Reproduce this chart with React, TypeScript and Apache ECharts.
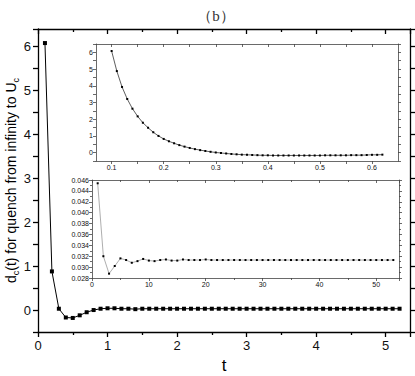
import React, { useEffect, useRef } from "react";
import * as echarts from "echarts";

// Main curve: d_c(t) vs t
const mainT = [0.1, 0.2, 0.3, 0.4, 0.5, 0.6, 0.7, 0.8, 0.9, 1.0, 1.1, 1.2, 1.3, 1.4, 1.5, 1.6, 1.7, 1.8, 1.9, 2.0,
  2.1, 2.2, 2.3, 2.4, 2.5, 2.6, 2.7, 2.8, 2.9, 3.0, 3.1, 3.2, 3.3, 3.4, 3.5, 3.6, 3.7, 3.8, 3.9, 4.0,
  4.1, 4.2, 4.3, 4.4, 4.5, 4.6, 4.7, 4.8, 4.9, 5.0, 5.1, 5.2];
const mainD = [6.08, 0.88, 0.03, -0.17, -0.18, -0.12, -0.05, 0.0, 0.03, 0.04, 0.04, 0.03, 0.03, 0.02, 0.03, 0.03, 0.03, 0.03, 0.03, 0.03,
  0.03, 0.03, 0.03, 0.03, 0.03, 0.03, 0.03, 0.03, 0.03, 0.03, 0.03, 0.03, 0.03, 0.03, 0.03, 0.03, 0.03, 0.03, 0.03, 0.03,
  0.03, 0.03, 0.03, 0.03, 0.03, 0.03, 0.03, 0.03, 0.03, 0.03, 0.03, 0.03];

// Inset 1 (fine time grid)
const inset1X = [0.10, 0.11, 0.12, 0.13, 0.14, 0.15, 0.16, 0.17, 0.18, 0.19, 0.20, 0.21, 0.22, 0.23, 0.24, 0.25, 0.26, 0.27, 0.28, 0.29,
  0.30, 0.31, 0.32, 0.33, 0.34, 0.35, 0.36, 0.37, 0.38, 0.39, 0.40, 0.41, 0.42, 0.43, 0.44, 0.45, 0.46, 0.47, 0.48, 0.49,
  0.50, 0.51, 0.52, 0.53, 0.54, 0.55, 0.56, 0.57, 0.58, 0.59, 0.60, 0.61, 0.62];
const inset1D = [6.08, 4.88, 3.93, 3.21, 2.63, 2.17, 1.79, 1.49, 1.22, 1.00, 0.82, 0.68, 0.56, 0.45, 0.36, 0.28, 0.21, 0.15, 0.10, 0.05,
  0.01, -0.02, -0.05, -0.08, -0.10, -0.12, -0.13, -0.14, -0.15, -0.16, -0.16, -0.17, -0.17, -0.17, -0.17, -0.17, -0.17, -0.17, -0.17, -0.17,
  -0.17, -0.16, -0.16, -0.16, -0.16, -0.16, -0.15, -0.15, -0.15, -0.14, -0.13, -0.13, -0.12];
const inset1XLabels = [0.1, 0.2, 0.3, 0.4, 0.5, 0.6];
const inset1XTicks = [0.1, 0.15, 0.2, 0.25, 0.3, 0.35, 0.4, 0.45, 0.5, 0.55, 0.6];

// Inset 2 (long-time behaviour)
const inset2X = [1, 2, 3, 4, 5, 6, 7, 8, 9, 10, 11, 12, 13, 14, 15, 16, 17, 18, 19, 20, 21, 22, 23, 24, 25, 26, 27,
  28, 29, 30, 31, 32, 33, 34, 35, 36, 37, 38, 39, 40, 41, 42, 43, 44, 45, 46, 47, 48, 49, 50, 51, 52, 53];
const inset2D = [0.0454, 0.0320, 0.0288, 0.0302, 0.0316, 0.0313, 0.0308, 0.0311, 0.0315, 0.0312, 0.0311, 0.0313, 0.0314, 0.0312,
  0.0312, 0.0314, 0.0313, 0.0313, 0.0313, 0.0314, 0.0313, 0.0313, 0.0313, 0.0313, 0.0313, 0.0313, 0.0313, 0.0313, 0.0313,
  0.0313, 0.0313, 0.0313, 0.0313, 0.0313, 0.0313, 0.0313, 0.0313, 0.0313, 0.0313, 0.0313, 0.0313, 0.0313, 0.0313, 0.0313,
  0.0313, 0.0313, 0.0313, 0.0313, 0.0313, 0.0313, 0.0313, 0.0313, 0.0313];

const FONT = "Liberation Sans";

function isMult(v: number, step: number) {
  const r = v / step;
  return Math.abs(r - Math.round(r)) < 1e-6;
}

type AxOpt = {
  color: string; width: number; font: number; tick: number; minor: number; margin: number;
  labelStep: number; minorOn: boolean; extra?: any; tickValues?: number[]; labelValues?: number[];
};

function makeAxes(grid: number, kind: "x" | "y", min: number, max: number, interval: number | undefined,
  fmt: (v: number) => string, o: AxOpt) {
  const line = { show: true, onZero: false, lineStyle: { color: o.color, width: o.width } };
  const base: any = {
    type: "value", gridIndex: grid, min, max, splitLine: { show: false }, axisLine: line,
  };
  if (interval !== undefined) base.interval = interval;
  const tickStyle = { color: o.color, width: o.width };
  const mk = (inside: boolean) => {
    const t: any = { show: true, inside, length: o.tick, lineStyle: tickStyle };
    if (o.tickValues) t.customValues = o.tickValues;
    return t;
  };
  const minor = { show: o.minorOn, splitNumber: 2, length: o.minor, lineStyle: tickStyle };
  const label: any = {
    show: true, fontSize: o.font, fontFamily: FONT, color: "#111", margin: o.margin,
    formatter: (v: number) => (isMult(v, o.labelStep) ? fmt(v) : ""),
  };
  if (o.labelValues) label.customValues = o.labelValues;
  const primary = {
    ...base, position: kind === "x" ? "bottom" : "left",
    axisTick: mk(false), minorTick: minor, axisLabel: label, ...(o.extra || {}),
  };
  const mirror = {
    ...base, position: kind === "x" ? "top" : "right",
    axisTick: mk(kind === "x"), minorTick: minor, axisLabel: { show: false },
  };
  return [primary, mirror];
}

export default function App() {
  const ref = useRef<HTMLDivElement>(null);
  useEffect(() => {
    const chart = echarts.init(ref.current!, null, { renderer: "svg" });
    const mainStyle = { color: "#000", width: 1.3, font: 13, tick: 5, minor: 3, margin: 7 };
    const insStyle = { color: "#444", width: 0.8, font: 7, tick: 3, minor: 2, margin: 3 };

    const xAxes = [
      ...makeAxes(0, "x", 0, 5.35, 1, (v) => String(Math.round(v)), {
        ...mainStyle, labelStep: 1, minorOn: true,
        extra: { name: "t", nameLocation: "middle", nameGap: 22, nameTextStyle: { fontSize: 17, fontFamily: FONT, color: "#000", lineHeight: 18 } },
      }),
      ...makeAxes(1, "x", 0.07, 0.65, undefined, (v) => v.toFixed(1), {
        ...insStyle, labelStep: 0.1, minorOn: false, tickValues: inset1XTicks, labelValues: inset1XLabels,
      }),
      ...makeAxes(2, "x", 0, 54, 10, (v) => String(Math.round(v)), { ...insStyle, labelStep: 10, minorOn: true }),
    ];
    const yAxes = [
      ...makeAxes(0, "y", -0.5, 6.4, 0.5, (v) => String(Math.round(v)), {
        ...mainStyle, labelStep: 1, minorOn: false,
        extra: {
          name: "{n|d}{s|c}{n|(t) for quench from infinity to U}{s|c}",
          nameLocation: "middle",
          nameGap: 18,
          nameMoveOverlap: false,
          nameTextStyle: {
            color: "#000",
            rich: {
              n: { fontSize: 14, fontFamily: FONT, color: "#000", lineHeight: 19 },
              s: { fontSize: 9, fontFamily: FONT, color: "#000", lineHeight: 19, verticalAlign: "bottom" },
            },
          },
        },
      }),
      ...makeAxes(1, "y", -0.5, 6.5, 0.5, (v) => String(Math.round(v)), { ...insStyle, labelStep: 1, minorOn: false }),
      ...makeAxes(2, "y", 0.028, 0.046, 0.002, (v) => v.toFixed(3), { ...insStyle, labelStep: 0.002, minorOn: true }),
    ];

    const pairs = (xs: number[], ys: number[]) => xs.map((x, i) => [x, ys[i]]);

    chart.setOption({
      animation: false,
      backgroundColor: "#fff",
      graphic: [
        {
          type: "text", x: 216, y: 16,
          style: { text: "（b）", fontSize: 15, fontFamily: "serif", fill: "#333", align: "center", verticalAlign: "middle" },
        },
      ],
      grid: [
        { left: 38, top: 29, width: 372, height: 303, containLabel: false, outerBoundsMode: "none" },
        { left: 96, top: 44, width: 302, height: 117, containLabel: false, outerBoundsMode: "none" },
        { left: 92, top: 180, width: 307, height: 98, containLabel: false, outerBoundsMode: "none" },
      ],
      xAxis: xAxes,
      yAxis: yAxes,
      series: [
        {
          type: "line", xAxisIndex: 0, yAxisIndex: 0, data: pairs(mainT, mainD),
          symbol: "rect", symbolSize: 4, itemStyle: { color: "#000" }, lineStyle: { color: "#000", width: 1 },
        },
        {
          type: "line", xAxisIndex: 2, yAxisIndex: 2, data: pairs(inset1X, inset1D),
          symbol: "rect", symbolSize: 2, itemStyle: { color: "#000" }, lineStyle: { color: "#333", width: 0.8 },
        },
        {
          type: "line", xAxisIndex: 4, yAxisIndex: 4, data: pairs(inset2X, inset2D),
          symbol: "rect", symbolSize: 2, itemStyle: { color: "#000" }, lineStyle: { color: "#999", width: 0.8 },
        },
      ],
    });
    return () => chart.dispose();
  }, []);
  return <div ref={ref} style={{ position: "absolute", left: 0, top: 0, width: 415, height: 376 }} />;
}
